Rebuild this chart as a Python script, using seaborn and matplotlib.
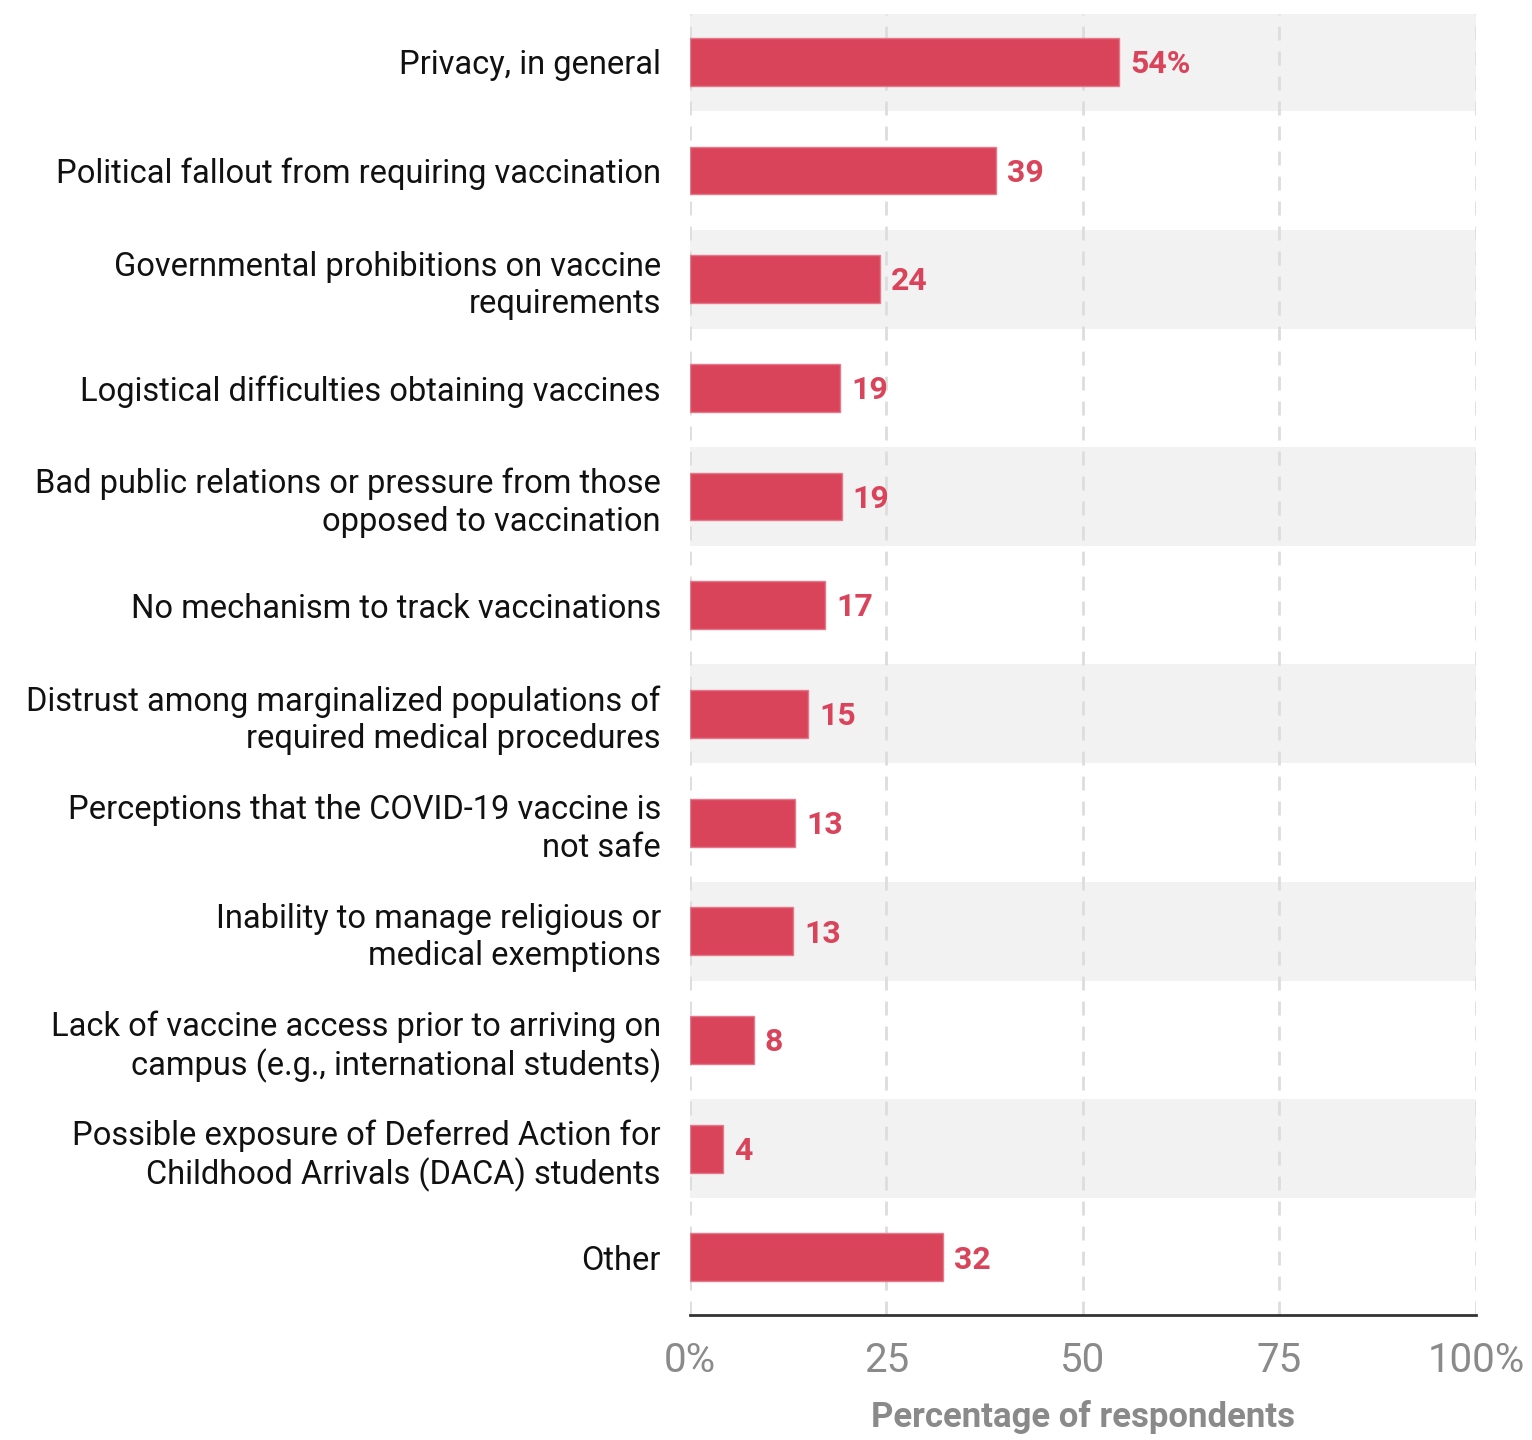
import matplotlib
matplotlib.use("Agg")
import matplotlib.pyplot as plt
import seaborn as sns
import pandas as pd

# Survey data: concerns about vaccine requirements
categories = [
    "Privacy, in general",
    "Political fallout from requiring vaccination",
    "Governmental prohibitions on vaccine\nrequirements",
    "Logistical difficulties obtaining vaccines",
    "Bad public relations or pressure from those\nopposed to vaccination",
    "No mechanism to track vaccinations",
    "Distrust among marginalized populations of\nrequired medical procedures",
    "Perceptions that the COVID-19 vaccine is\nnot safe",
    "Inability to manage religious or\nmedical exemptions",
    "Lack of vaccine access prior to arriving on\ncampus (e.g., international students)",
    "Possible exposure of Deferred Action for\nChildhood Arrivals (DACA) students",
    "Other",
]
values = [54.6, 38.9, 24.2, 19.1, 19.3, 17.2, 15.0, 13.4, 13.1, 8.1, 4.2, 32.2]
value_labels = ["54%", "39", "24", "19", "19", "17", "15", "13", "13", "8", "4", "32"]
tick_values = [0, 25, 50, 75, 100]
tick_labels = ["0%", "25", "50", "75", "100%"]

df = pd.DataFrame({"category": categories, "value": values})

sns.set_style("white")
plt.rcParams["font.family"] = ["Roboto", "DejaVu Sans"]

bar_color = "#D9445B"

fig = plt.figure(figsize=(15.32, 14.4), dpi=100)
ax = fig.add_axes([0.4504, 0.0868, 0.5130, 0.9035])

# alternating row shading
for i in range(len(categories)):
    if i % 2 == 0:
        ax.axhspan(i - 0.455, i + 0.455, color="#F2F2F2", zorder=0, lw=0)

sns.barplot(data=df, x="value", y="category", orient="h", color=bar_color,
            saturation=1, width=0.44, ax=ax, zorder=3,
            edgecolor="#E5788A", linewidth=1)

for i, (v, lab) in enumerate(zip(values, value_labels)):
    ax.text(v + 1.4, i + 0.02, lab, va="center", ha="left", color=bar_color,
            fontsize=23, fontweight="bold", zorder=4)

ax.set_xlim(0, 100)
ax.set_ylim(11.53, -0.44)
ax.set_xticks(tick_values)
ax.set_xticklabels(tick_labels, color="#8A8A8A", fontsize=29)
ax.tick_params(axis="x", length=0, pad=19)
ax.tick_params(axis="y", length=0, pad=21, labelsize=23.5, labelcolor="#111111")
for lbl in ax.get_yticklabels():
    lbl.set_linespacing(1.22)

for t in tick_values:
    ax.axvline(t, color="#DDDDDD", lw=2, ls=(0, (5, 4)), zorder=1)

for s in ["top", "right", "left"]:
    ax.spines[s].set_visible(False)
ax.spines["bottom"].set_color("#333333")
ax.spines["bottom"].set_linewidth(2)

ax.set_ylabel("")
ax.set_xlabel("Percentage of respondents", color="#8A8A8A", fontsize=25,
              fontweight="bold", labelpad=14)

fig.savefig("out.png", dpi=100)
